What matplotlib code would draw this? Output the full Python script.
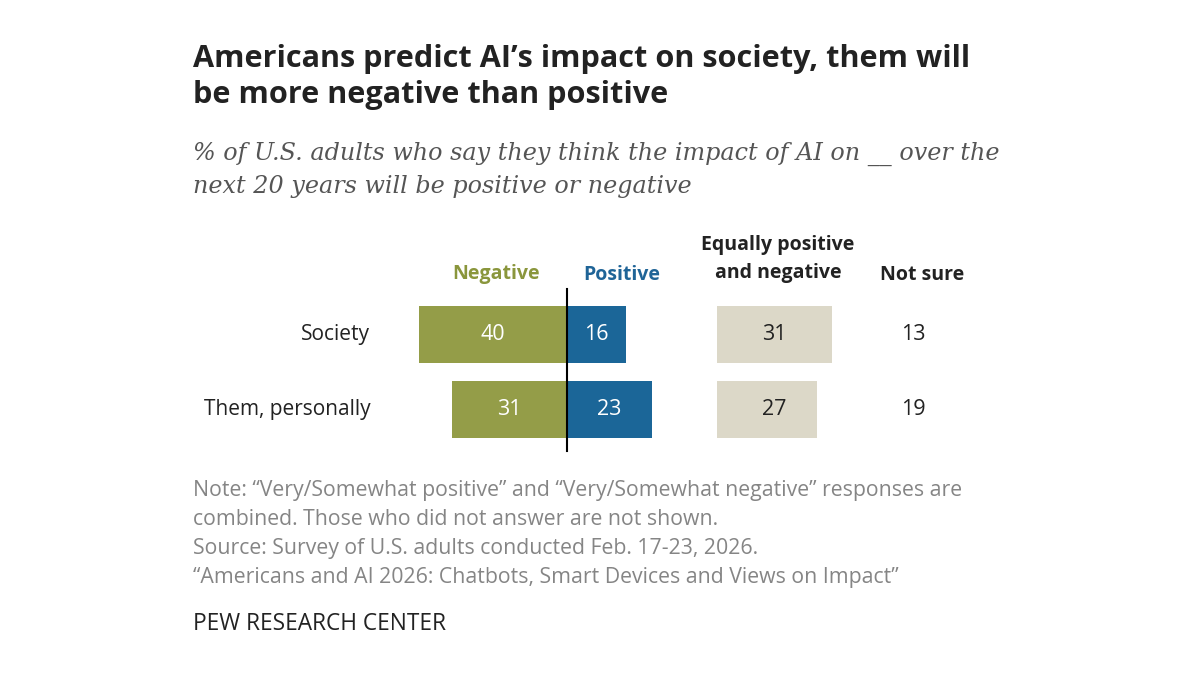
import matplotlib
matplotlib.use('Agg')
import matplotlib.pyplot as plt

rows = ['Society', 'Them, personally']
negative = [40, 31]
positive = [16, 23]
equally = [31, 27]
not_sure = [13, 19]

sans = ['Open Sans', 'DejaVu Sans']
serif = ['DejaVu Serif']

neg_col = '#949d48'
pos_col = '#1b6698'
eq_col = '#dcd8c8'
dark = '#222222'
W, H = 1200, 673
fig = plt.figure(figsize=(W / 100, H / 100), dpi=100)
ax = fig.add_axes([0, 0, 1, 1])

# axis scale: 3.7 px per percentage point, zero line at x=567 px
ppu = 3.7
zero_px = 567
ax.set_xlim(-zero_px / ppu, (W - zero_px) / ppu)
row_px = 334.5
row_step = 75
ax.set_ylim((H - row_px) / row_step, -row_px / row_step)
ax.axis('off')


def ftext(xp, yp, s, **kw):
    # place text by pixel position measured from top-left
    return fig.text(xp / W, 1 - yp / H, s, **kw)


y = list(range(len(rows)))
eq_off = 40.5
ns_x = 93.5
bh = 0.76
ax.barh(y, [-v for v in negative], height=bh, color=neg_col)
ax.barh(y, positive, height=bh, color=pos_col)
ax.barh(y, equally, left=eq_off, height=bh, color=eq_col)
ax.plot([0, 0], [-0.6, 1.55], color='black', lw=1.5)

fs = 15.5
for i in y:
    ax.text(-negative[i] / 2, i, str(negative[i]), ha='center', va='center', color='white',
            fontsize=fs, family=sans)
    ax.text(positive[i] / 2, i, str(positive[i]), ha='center', va='center', color='white',
            fontsize=fs, family=sans)
    ax.text(eq_off + 15.5, i, str(equally[i]), ha='center', va='center', color=dark,
            fontsize=fs, family=sans)
    ax.text(ns_x, i, str(not_sure[i]), ha='center', va='center', color=dark,
            fontsize=fs, family=sans)
    ax.text(-53.2, i, rows[i], ha='right', va='center', color=dark, fontsize=15, family=sans)

# column headers
hk = dict(ha='center', va='baseline', fontsize=14, fontweight='bold', family=sans)
ftext(496, 279, 'Negative', color='#8a963c', **hk)
ftext(622, 280, 'Positive', color='#1f6497', **hk)
ftext(778, 250, 'Equally positive', color=dark, **hk)
ftext(778, 278, 'and negative', color=dark, **hk)
ftext(922, 280, 'Not sure', color=dark, **hk)

# title and subtitle
tk = dict(ha='left', va='baseline', fontsize=22.1, fontweight='bold', color=dark, family=sans)
ftext(193, 67, 'Americans predict AI\u2019s impact on society, them will', **tk)
ftext(193, 103, 'be more negative than positive', **tk)
sk = dict(ha='left', va='baseline', fontsize=17.2, style='italic', color='#555555', family=serif)
ftext(193, 160, '% of U.S. adults who say they think the impact of AI on __ over the', **sk)
ftext(193, 193, 'next 20 years will be positive or negative', **sk)

notes = ['Note: \u201cVery/Somewhat positive\u201d and \u201cVery/Somewhat negative\u201d responses are',
         'combined. Those who did not answer are not shown.',
         'Source: Survey of U.S. adults conducted Feb. 17-23, 2026.',
         '\u201cAmericans and AI 2026: Chatbots, Smart Devices and Views on Impact\u201d']
for k, line in enumerate(notes):
    ftext(193, 496 + 29 * k, line, ha='left', va='baseline', fontsize=15.3,
          color='#858585', family=sans)
ftext(193, 630, 'PEW RESEARCH CENTER', ha='left', va='baseline', fontsize=16.3,
      color=dark, family=sans)

fig.savefig('out.png', dpi=100, facecolor='white')
